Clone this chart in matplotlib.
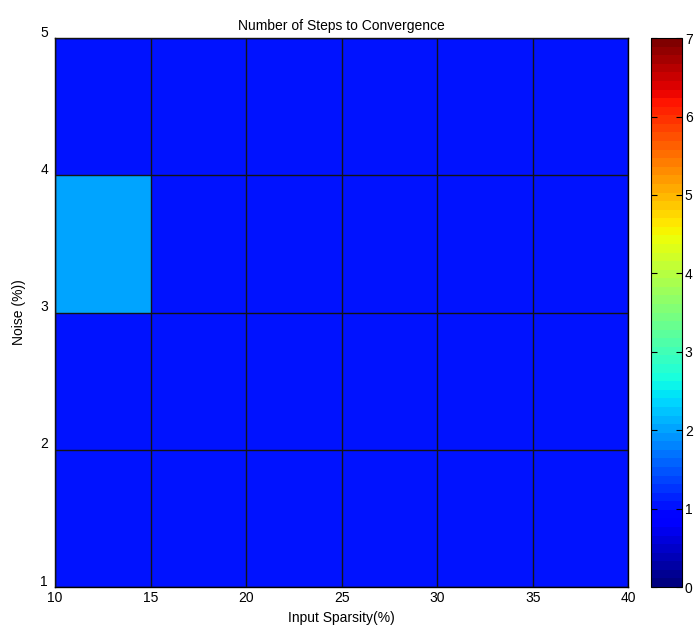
import numpy as np
import matplotlib
matplotlib.use("Agg")
import matplotlib.pyplot as plt
import matplotlib.transforms as mtransforms

x_edges = [10, 15, 20, 25, 30, 35, 40]
y_edges = [1, 2, 3, 4, 5]
steps = [
    [1, 1, 1, 1, 1, 1],
    [1, 1, 1, 1, 1, 1],
    [2, 1, 1, 1, 1, 1],
    [1, 1, 1, 1, 1, 1],
]
cbar_ticks = [0, 1, 2, 3, 4, 5, 6, 7]

plt.rcParams['font.family'] = ['Liberation Sans', 'DejaVu Sans']

fig = plt.figure(figsize=(6.94, 6.36), dpi=100)
ax = fig.add_axes([0.0793, 0.077, 0.826, 0.863])
cax = fig.add_axes([0.938, 0.077, 0.0447, 0.863])

cmap = plt.get_cmap('jet', 64)
mesh = ax.pcolormesh(x_edges, y_edges, np.array(steps), cmap=cmap, vmin=0, vmax=7)
ax.set_xlim(10, 40)
ax.set_ylim(1, 5)
ax.set_xticks(x_edges)
ax.set_yticks(y_edges)
ax.set_axisbelow(False)
ax.grid(True, color='#141414', linewidth=1.0, linestyle='-')
ax.tick_params(direction='in', length=0, labelsize=10, pad=3)
ax.tick_params(axis='y', pad=5)
off = mtransforms.ScaledTranslation(0, 5 / 72, fig.dpi_scale_trans)
for lab in ax.get_yticklabels():
    lab.set_transform(lab.get_transform() + off)
ax.set_title('Number of Steps to Convergence', fontsize=10, pad=6)
ax.set_xlabel('Input Sparsity(%)', fontsize=10, labelpad=4)
ax.set_ylabel('Noise (%))', fontsize=10, labelpad=10)
for s in ax.spines.values():
    s.set_linewidth(1.0)

cb = fig.colorbar(mesh, cax=cax, ticks=cbar_ticks)
cb.outline.set_linewidth(0.8)
cax.tick_params(direction='in', length=4, labelsize=10, pad=2, left=True, right=True)

fig.savefig('out.png', dpi=100)
